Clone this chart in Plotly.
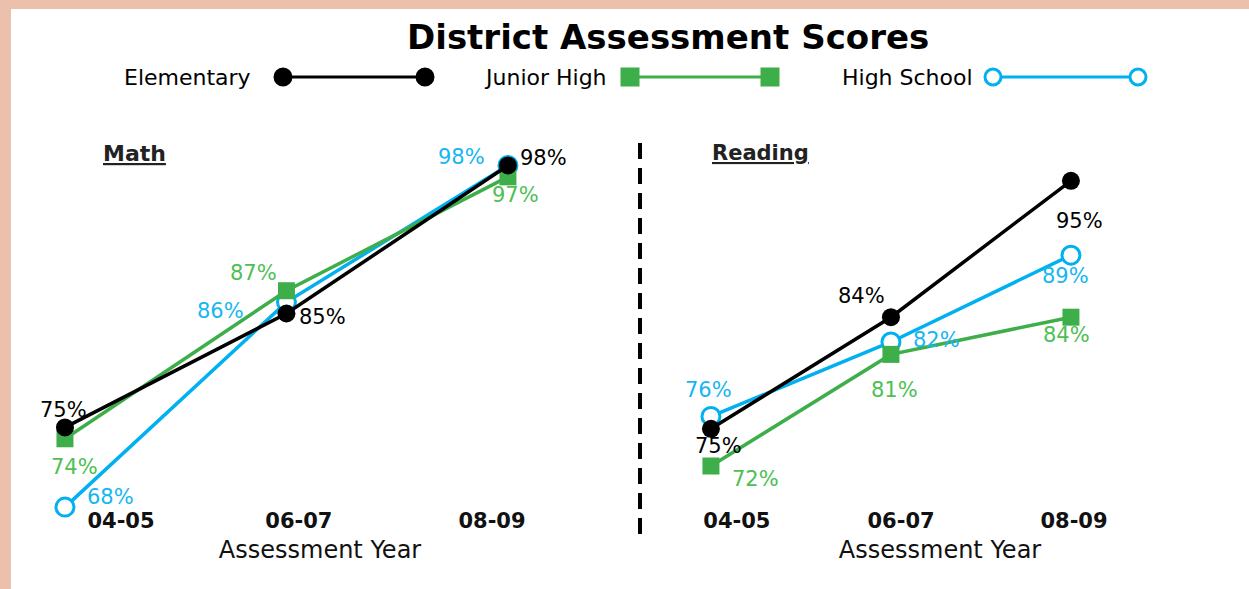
import plotly.graph_objects as go

# ---- data ----
years = ["04-05", "06-07", "08-09"]
series_names = ["Elementary", "Junior High", "High School"]

math_elementary = [75, 85, 98]
math_junior_high = [74, 87, 97]
math_high_school = [68, 86, 98]

reading_elementary = [75, 84, 95]
reading_junior_high = [72, 81, 84]
reading_high_school = [76, 82, 89]

W, H = 1249, 589
FONT = "DejaVu Sans"
BLACK = "#000000"
GREEN = "#3DAE49"
GREEN_TXT = "#4DBF55"
CYAN = "#00B0F0"
CYAN_TXT = "#17B6F2"


def px(x):
    return x / W


def py(y):
    return 1 - y / H


styles = {
    "Elementary": dict(color=BLACK, txt=BLACK, symbol="circle", fill=BLACK),
    "Junior High": dict(color=GREEN, txt=GREEN_TXT, symbol="square", fill=GREEN),
    "High School": dict(color=CYAN, txt=CYAN_TXT, symbol="circle-open", fill="white"),
}

# label offsets (pixels) for each point: (xshift, yshift)
math_offsets = {
    "Elementary": [(-1, 17), (36, -3), (36, 7)],
    "Junior High": [(10, -28), (-33, 18), (8, -18)],
    "High School": [(46, 10), (-66, -9), (-46, 8)],
}
reading_offsets = {
    "Elementary": [(8, -17), (-29, 21), (9, -40)],
    "Junior High": [(45, -13), (4, -36), (-4, -18)],
    "High School": [(-2, 26), (46, 2), (-5, -21)],
}

panels = [
    ("x", "y", [math_elementary, math_junior_high, math_high_school], math_offsets),
    ("x2", "y2", [reading_elementary, reading_junior_high, reading_high_school], reading_offsets),
]

fig = go.Figure()
annotations = []

xi = list(range(len(years)))
# draw order: blue below green below black
order = [2, 1, 0]
for xa, ya, values, offsets in panels:
    for k in order:
        name = series_names[k]
        st = styles[name]
        fig.add_trace(
            go.Scatter(
                x=xi,
                y=values[k],
                xaxis=xa,
                yaxis=ya,
                mode="lines+markers",
                name=name,
                showlegend=False,
                cliponaxis=False,
                line=dict(color=st["color"], width=3.5),
                marker=dict(
                    symbol="circle" if st["symbol"] == "circle-open" else st["symbol"],
                    size=18 if st["symbol"] != "square" else 17,
                    color=st["fill"],
                    line=dict(color=st["color"], width=3 if st["symbol"] == "circle-open" else 0),
                ),
            )
        )
        for i, v in enumerate(values[k]):
            dx, dy = offsets[name][i]
            annotations.append(
                dict(
                    x=i, y=v, xref=xa, yref=ya, text=f"{v}%",
                    showarrow=False, xshift=dx, yshift=dy,
                    xanchor="center", yanchor="middle",
                    font=dict(family=FONT, size=21, color=st["txt"]),
                )
            )

# ---- legend drawn by hand ----
shapes = []
legend_rows = [
    ("Elementary", 253, 283, 425),
    ("Junior High", 609, 630, 770),
    ("High School", 975, 993, 1138),
]
leg_y = 77
for name, text_right, x0, x1 in legend_rows:
    st = styles[name]
    annotations.append(
        dict(
            x=px(text_right), y=py(leg_y), xref="paper", yref="paper",
            xanchor="right", yanchor="middle", text=name, showarrow=False,
            font=dict(family=FONT, size=22, color=BLACK),
        )
    )
    shapes.append(
        dict(type="line", xref="paper", yref="paper",
             x0=px(x0), x1=px(x1), y0=py(leg_y), y1=py(leg_y),
             line=dict(color=st["color"], width=3))
    )
    r = 8
    for cx in (x0, x1):
        shapes.append(
            dict(type="circle" if st["symbol"] != "square" else "rect",
                 xref="paper", yref="paper",
                 x0=px(cx - r), x1=px(cx + r), y0=py(leg_y - r), y1=py(leg_y + r),
                 fillcolor=st["fill"],
                 line=dict(color=st["color"], width=3))
        )

# white panel over the salmon frame
shapes.insert(0, dict(type="rect", xref="paper", yref="paper", layer="below",
                      x0=px(11), x1=1, y0=0, y1=py(9),
                      fillcolor="white", line=dict(width=0)))
# dashed divider
shapes.append(dict(type="line", xref="paper", yref="paper",
                   x0=px(640), x1=px(640), y0=py(143), y1=py(540),
                   line=dict(color=BLACK, width=4, dash="16px,9px")))

# title and panel headers
annotations += [
    dict(x=px(668), y=py(37), xref="paper", yref="paper", text="<b>District Assessment Scores</b>",
         xanchor="center", yanchor="middle",
         showarrow=False, font=dict(family=FONT, size=34, color=BLACK)),
    dict(x=px(134), y=py(153), xref="paper", yref="paper", text="<b><u>Math</u></b>",
         xanchor="center", yanchor="middle",
         showarrow=False, font=dict(family=FONT, size=22, color="#222222")),
    dict(x=px(760), y=py(153), xref="paper", yref="paper", text="<b><u>Reading</u></b>",
         xanchor="center", yanchor="middle",
         showarrow=False, font=dict(family=FONT, size=21, color="#222222")),
]

axis_common = dict(showgrid=False, zeroline=False, showline=False, ticks="",
                   ticklabelstandoff=6, anchor="free", position=py(500),
                   tickfont=dict(family=FONT, size=21, color="#111111"),
                   title_font=dict(family=FONT, size=24, color="#111111"))

# plot area: y pixels 120..530, category axis sits at 500
ydom = [py(530), py(120)]

fig.update_layout(
    width=W, height=H,
    margin=dict(l=0, r=0, t=0, b=0),
    paper_bgcolor="#EBC0AC",
    plot_bgcolor="rgba(0,0,0,0)",
    showlegend=False,
    xaxis=dict(domain=[px(20), px(620)], range=[-0.203, 2.506],
               tickvals=[0.253, 1.056, 1.928], ticktext=[f"<b>{y}</b>" for y in years],
               title=dict(text="Assessment Year", standoff=9), **axis_common),
    yaxis=dict(domain=ydom, range=[65.99, 101.99], visible=False, anchor="x"),
    xaxis2=dict(domain=[px(660), px(1220)], range=[-0.283, 2.828],
                tickvals=[0.144, 1.056, 2.017], ticktext=[f"<b>{y}</b>" for y in years],
                title=dict(text="Assessment Year", standoff=9), **axis_common),
    yaxis2=dict(domain=ydom, range=[66.84, 99.90], visible=False, anchor="x2"),
    annotations=annotations,
    shapes=shapes,
)

fig.write_html("out.html", config={"displayModeBar": False},
               post_script="document.body.style.margin='0';")
